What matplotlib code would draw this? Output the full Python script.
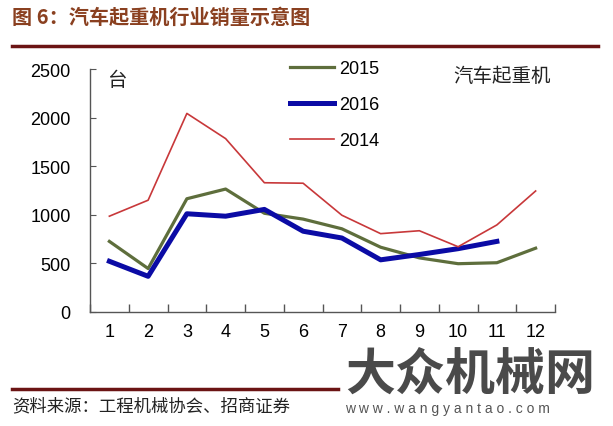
import matplotlib
matplotlib.use('Agg')
import matplotlib.pyplot as plt
from matplotlib.lines import Line2D

plt.rcParams['font.family'] = ['Liberation Sans', 'Noto Sans CJK SC', 'DejaVu Sans']

months = ['1', '2', '3', '4', '5', '6', '7', '8', '9', '10', '11', '12']
sales_2015 = [725, 445, 1165, 1265, 1015, 955, 855, 665, 555, 495, 505, 655]
sales_2016 = [520, 365, 1010, 985, 1055, 830, 760, 535, 590, 650, 725]
sales_2014 = [985, 1150, 2045, 1785, 1330, 1325, 995, 805, 835, 670, 895, 1245]

cjk = ['Noto Sans CJK SC', 'DejaVu Sans']

fig = plt.figure(figsize=(6.13, 4.27), dpi=100)
ax = fig.add_axes([90/613, 1-312.7/427, 465/613, 242.4/427])

x = range(len(months))
x16 = range(len(sales_2016))
ax.plot(x, sales_2015, color='#5E6E3C', lw=2.3, label='2015')
ax.plot(x16, sales_2016, color='#0B0BA5', lw=3.6, label='2016')
ax.plot(x, sales_2014, color='#C8383A', lw=1.2, label='2014')

ax.set_xlim(-0.5, 11.5)
ax.set_ylim(0, 2500)
ax.set_yticks(range(0, 2501, 500))
ax.set_xticks(list(x))
ax.set_xticklabels(months)
ax.set_xticks([i + 0.5 for i in range(-1, 12)], minor=True)
ax.tick_params(axis='x', which='major', length=0, labelsize=13, pad=8)
ax.tick_params(axis='x', which='minor', direction='in', length=6, width=1, color='#555555')
ax.tick_params(axis='y', direction='in', length=4, labelsize=13, pad=14, color='#555555')
for s in ['top', 'right']:
    ax.spines[s].set_visible(False)
for s in ['left', 'bottom']:
    ax.spines[s].set_color('#555555')
    ax.spines[s].set_linewidth(1)

fig.text(107/613, 1-81/427, '台', fontsize=14, family=cjk, va='center', ha='left',
         color='#222222')
fig.text(453/613, 1-76/427, '汽车起重机', fontsize=14, family=cjk, va='center', ha='left',
         color='#222222')

leg = ax.legend(loc='upper left', bbox_to_anchor=(290/613, 1-61/427),
                bbox_transform=fig.transFigure, frameon=False, fontsize=13,
                handlelength=2.45, handletextpad=0.25, labelspacing=1.05,
                borderpad=0, borderaxespad=0)

# header
fig.text(12/613, 1-17/427, '图 6：汽车起重机行业销量示意图', fontsize=14.5, fontweight='bold',
         family=cjk, color='#8A4020', va='center', ha='left')
fig.add_artist(Line2D([12/613, 598/613], [1-47/427, 1-47/427], color='#6B1414', lw=2.5))

# footer
fig.add_artist(Line2D([12/613, 338/613], [1-390/427, 1-390/427], color='#6B1414', lw=2.5))
fig.text(12/613, 1-406/427, '资料来源：工程机械协会、招商证券', fontsize=12.5, family=cjk,
         color='#222222', va='center', ha='left')
fig.text(345/613, 1-375/427, '大众机械网', fontsize=36, fontweight='bold', family=cjk,
         color='#4A4A4A', va='center', ha='left')
fig.text(345/613, 1-409/427, 'w w w . w a n g y a n t a o . c o m', fontsize=10,
         color='#555555', va='center', ha='left')

fig.savefig('out.png', dpi=100)
